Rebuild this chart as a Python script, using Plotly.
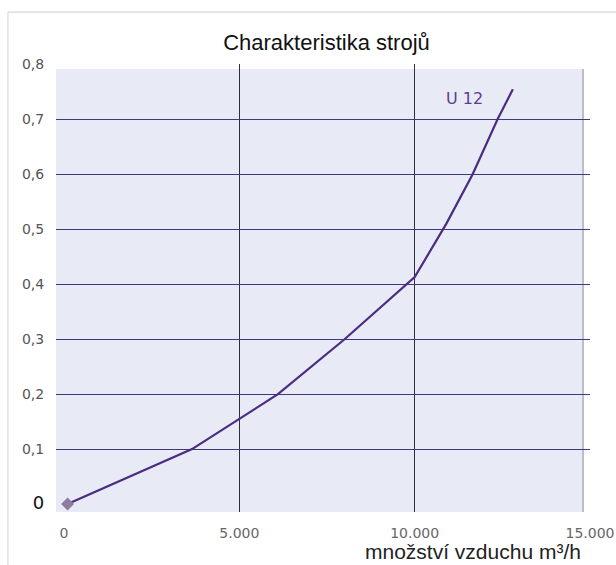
import plotly.graph_objects as go

# Data
flow = [100, 3650, 6100, 8000, 10000, 10900, 11650, 12360, 12800]   # m3/h
pressure = [0, 0.1, 0.2, 0.3, 0.413, 0.51, 0.6, 0.7, 0.755]
series_name = "U 12"

x_tickvals = [0, 5000, 10000, 15000]
x_ticktext = ["0", "5.000", "10.000", "15.000"]
x_gridvals = [5000, 10000]
y_tickvals = [0, 0.1, 0.2, 0.3, 0.4, 0.5, 0.6, 0.7, 0.8]
y_ticktext = ["<span style='color:#111;font-size:18px'>0</span>", "0,1", "0,2", "0,3",
              "0,4", "0,5", "0,6", "0,7", "0,8"]
y_gridvals = [0.1, 0.2, 0.3, 0.4, 0.5, 0.6, 0.7]

line_color = "#4a2c80"

fig = go.Figure()
fig.add_trace(go.Scatter(x=flow, y=pressure, mode="lines", name=series_name,
                         line=dict(color=line_color, width=2.2), showlegend=False))
fig.add_trace(go.Scatter(x=flow[:1], y=pressure[:1], mode="markers",
                         marker=dict(symbol="diamond", size=10, color="#8c7ea0"),
                         showlegend=False, cliponaxis=False))

fig.update_layout(
    width=616, height=565,
    margin=dict(l=56, r=26, t=64, b=53),
    paper_bgcolor="white",
    plot_bgcolor="rgba(0,0,0,0)",
    title=dict(text="Charakteristika strojů", x=0.53, xanchor="center", y=0.926, yanchor="middle",
               font=dict(family="Liberation Sans", size=22, color="#111")),
    xaxis=dict(range=[-230, 15000], tickmode="array", tickvals=x_tickvals, ticktext=x_ticktext,
               showgrid=False, zeroline=False, showline=False, automargin=False,
               ticks="outside", ticklen=8, tickcolor="rgba(0,0,0,0)",
               tickfont=dict(family="DejaVu Sans", size=14, color="#666"),
               minor=dict(tickmode="array", tickvals=x_gridvals, showgrid=True,
                          gridcolor="#2e2e3e", gridwidth=1, ticks="")),
    yaxis=dict(range=[-0.0145, 0.801], tickmode="array", tickvals=y_tickvals, ticktext=y_ticktext,
               showgrid=False, zeroline=False, showline=False, automargin=False,
               ticks="outside", ticklen=8, tickcolor="rgba(0,0,0,0)",
               tickfont=dict(family="DejaVu Sans", size=14, color="#555"),
               minor=dict(tickmode="array", tickvals=y_gridvals, showgrid=True,
                          gridcolor="#3d3a78", gridwidth=1, ticks="")),
    shapes=[
        # plot background panel
        dict(type="rect", xref="paper", yref="paper", x0=0, x1=0.987, y0=0, y1=0.989,
             fillcolor="#e8eaf6", line=dict(width=0), layer="below"),
        # right edge of panel
        dict(type="line", xref="paper", yref="paper", x0=0.987, x1=0.987, y0=0, y1=0.989,
             line=dict(color="#9a9aa8", width=1.2), layer="below"),
        # page frame
        dict(type="line", xref="paper", yref="paper", x0=-0.09, x1=1.05, y0=1.116, y1=1.116,
             line=dict(color="#c9c9da", width=1)),
        dict(type="line", xref="paper", yref="paper", x0=-0.09, x1=-0.09, y0=-0.12, y1=1.116,
             line=dict(color="#d4d4dc", width=1)),
    ],
    annotations=[
        dict(text=series_name, x=11410, y=0.738, xref="x", yref="y", showarrow=False,
             font=dict(family="DejaVu Sans", size=16, color="#5b3f90")),
        dict(text="množství vzduchu m³/h", x=0.987, y=-0.089, xref="paper", yref="paper",
             xanchor="right", yanchor="middle", showarrow=False,
             font=dict(family="Liberation Sans", size=21, color="#222")),
    ],
)

post = ("document.body.style.margin='0';document.body.style.overflow='hidden';"
        "var gd=document.getElementById('{plot_id}');"
        "Plotly.relayout(gd,{width:616,height:565});")
fig.write_html("out.html", post_script=post,
               config={"responsive": False, "displayModeBar": False})
